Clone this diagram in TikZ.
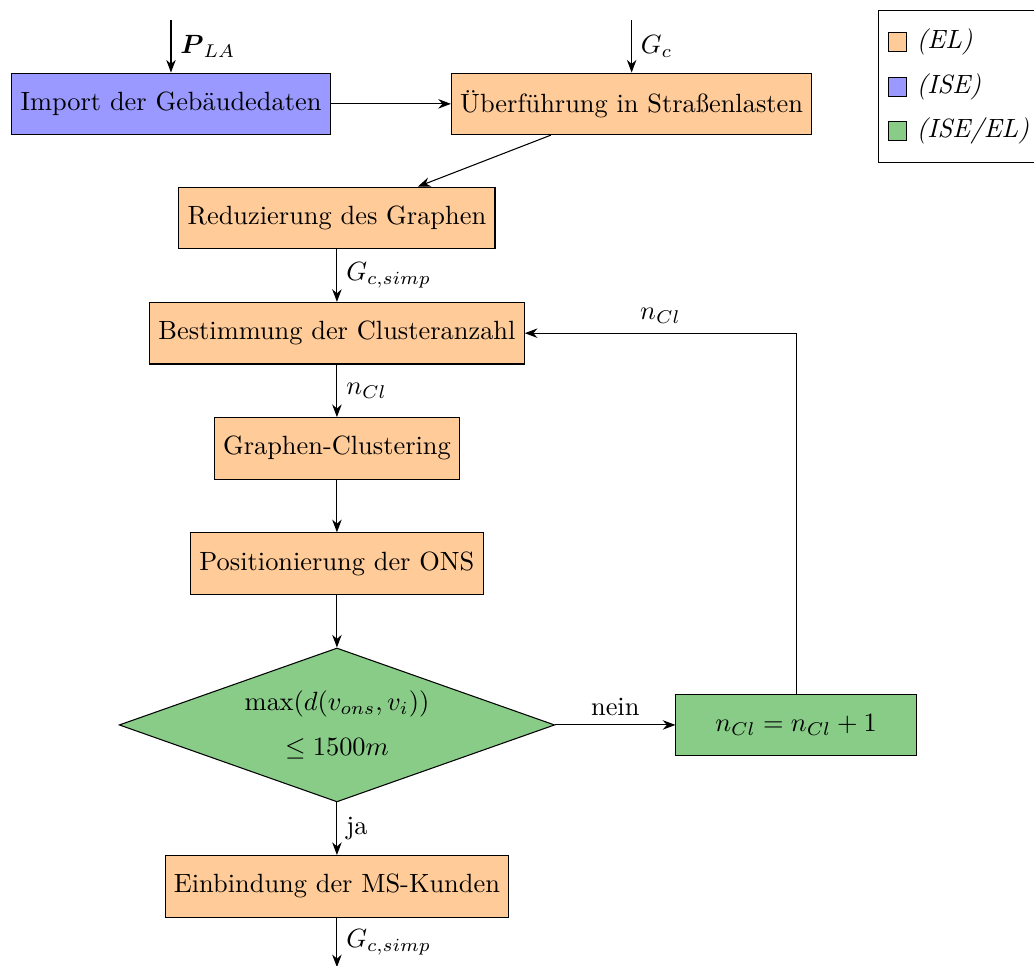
\documentclass[tikz,border=0pt]{standalone}
\usepackage{amsmath}
\usetikzlibrary{positioning, shapes.geometric, fit, arrows.meta}

\definecolor{elcol}{RGB}{255,204,153}
\definecolor{isecol}{RGB}{153,153,255}
\definecolor{bothcol}{RGB}{136,204,136}

\begin{document}
\begin{tikzpicture}[>={Stealth},
    box/.style={draw, rectangle, minimum width=3.2cm, minimum height=0.82cm},
    elbox/.style={box, fill=elcol},
    isebox/.style={box, fill=isecol},
    bothbox/.style={box, fill=bothcol},
    check/.style={draw, diamond, aspect=2.83, inner sep=0pt, minimum width=5.8cm, minimum height=2.05cm, fill=bothcol, align=center},
    key/.style={draw, rectangle, minimum size=0.25cm, inner sep=0pt}]
    \useasboundingbox (-4.487,2.903) rectangle (9.283,-9.96);
    % main column
    \node[elbox] (red) at (0,0) {Reduzierung des Graphen};
    \node[isebox] (imp) at (-2.21,1.52) {Import der Gebäudedaten};
    \node[elbox, right=1.6cm of imp] (ueber) {Überführung in Straßenlasten};
    \node[elbox, below=0.7cm of red] (anz) {Bestimmung der Clusteranzahl};
    \node[elbox, below=0.7cm of anz] (clu) {Graphen-Clustering};
    \node[elbox, below=0.7cm of clu] (pos) {Positionierung der ONS};
    \node[check, below=0.7cm of pos] (chk) {$\max(d(v_{ons},v_i))$\\[5pt] $\leq 1500m$};
    \node[bothbox, right=1.6cm of chk] (inc) {$n_{Cl} = n_{Cl} + 1$};
    \node[elbox, below=0.7cm of chk] (ms) {Einbindung der MS-Kunden};
    \coordinate[above=0.7cm of imp.north] (pla);
    \coordinate[above=0.7cm of ueber.north] (gc);
    \coordinate[below=0.66cm of ms.south] (out);
    % connectors
    \draw[->] (pla) -- node[right] {$\boldsymbol{P}_{LA}$} (imp.north);
    \draw[->] (gc) -- node[right] {$G_c$} (ueber.north);
    \draw[->] (imp) -- (ueber);
    \draw[->] (ueber) -- (red);
    \draw[->] (red) -- node[right] {$G_{c,simp}$} (anz);
    \draw[->] (anz) -- node[right] {$n_{Cl}$} (clu);
    \draw[->] (clu) -- (pos);
    \draw[->] (pos) -- (chk);
    \draw[->] (chk) -- node[above] {nein} (inc);
    \draw[->] (inc.north) |- node[above, pos=0.75] {$n_{Cl}$} (anz.east);
    \draw[->] (chk) -- node[right] {ja} (ms);
    \draw[->] (ms) -- node[right] {$G_{c,simp}$} (out);
    % legend
    \node[key, fill=elcol] (k1) at (7.464,2.34) {};
    \node[key, fill=isecol] (k2) at (7.464,1.745) {};
    \node[key, fill=bothcol] (k3) at (7.464,1.159) {};
    \node[right=0pt of k1, font=\itshape] (t1) {(EL)};
    \node[right=0pt of k2, font=\itshape] (t2) {(ISE)};
    \node[right=0pt of k3, font=\itshape] (t3) {(ISE/EL)};
    \node[draw, fit=(k1)(t1)(t3)] (legend) {};
\end{tikzpicture}
\end{document}
